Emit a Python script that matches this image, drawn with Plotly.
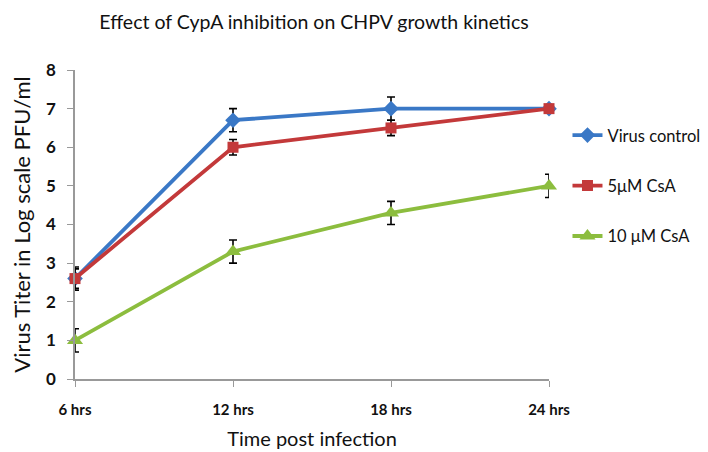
import plotly.graph_objects as go

categories = ["6 hrs", "12 hrs", "18 hrs", "24 hrs"]
series_names = ["Virus control", "5\u03bcM CsA", "10 \u03bcM CsA"]
virus_control = [2.6, 6.7, 7.0, 7.0]
virus_control_err = [0.3, 0.3, 0.3, 0.08]
csa_5 = [2.6, 6.0, 6.5, 7.0]
csa_5_err = [0.25, 0.2, 0.2, 0.08]
csa_10 = [1.0, 3.3, 4.3, 5.0]
csa_10_err = [0.3, 0.3, 0.3, 0.3]
y_ticks = [0, 1, 2, 3, 4, 5, 6, 7, 8]

colors = ["#3a78c6", "#c3393a", "#8cbd3e"]
symbols = ["diamond", "square", "triangle-up"]
msizes = [12, 11, 14]

FONT = "Lato"
fig = go.Figure()
for i, (name, ys, err) in enumerate(zip(series_names,
                                        [virus_control, csa_5, csa_10],
                                        [virus_control_err, csa_5_err, csa_10_err])):
    fig.add_trace(go.Scatter(
        x=list(range(len(categories))), y=ys, name=name, mode="lines+markers",
        legendgroup=f"g{i}",
        line=dict(color=colors[i], width=3.8),
        marker=dict(symbol=symbols[i], size=msizes[i], color=colors[i]),
        error_y=dict(type="data", array=err, visible=True, color="black",
                     thickness=1.6, width=4),
        cliponaxis=False,
    ))

fig.update_layout(
    width=708, height=452,
    paper_bgcolor="white", plot_bgcolor="white",
    margin=dict(l=67, r=167, t=62, b=81, autoexpand=False),
    font=dict(family=FONT, color="black"),
    title=dict(text="Effect of CypA inhibition on CHPV growth kinetics",
               x=306 / 708, xanchor="center", y=1 - 14 / 452, yanchor="middle",
               font=dict(family=FONT, size=19.5, color="#111")),
    showlegend=True,
    legend=dict(x=1.039, xanchor="left", y=0.845, yanchor="top",
                font=dict(family=FONT, size=16.5, color="#111"), tracegroupgap=26,
                bgcolor="rgba(0,0,0,0)", itemwidth=30),
    xaxis=dict(
        tickmode="array", tickvals=list(range(len(categories))), ticktext=categories,
        range=[0, len(categories) - 1], showgrid=False, zeroline=False,
        showline=True, linecolor="#999", linewidth=1.5,
        ticks="outside", ticklen=6, tickcolor="#999",
        ticklabelstandoff=10,
        tickfont=dict(family=FONT, size=15, color="#111", weight="bold"),
        title=dict(text="Time post infection", standoff=15,
                   font=dict(family=FONT, size=20, color="#111")),
    ),
    yaxis=dict(
        range=[0, 8], tickvals=y_ticks, showgrid=False, zeroline=False,
        showline=True, linecolor="#999", linewidth=1.5,
        ticks="outside", ticklen=6, tickcolor="#999",
        ticklabelstandoff=8,
        tickfont=dict(family=FONT, size=17, color="#111", weight="bold"),
        title=dict(text="Virus Titer in Log scale PFU/ml", standoff=16,
                   font=dict(family=FONT, size=22, color="#111")),
    ),
)

fig.write_html("out.html")
